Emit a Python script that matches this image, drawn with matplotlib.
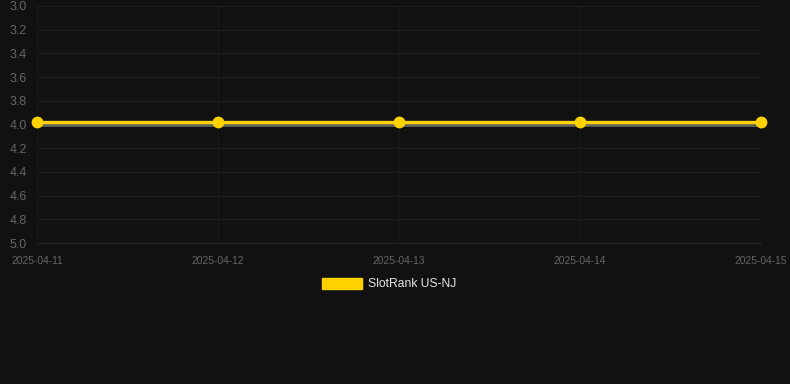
import datetime as dt

import matplotlib
matplotlib.use("Agg")
import matplotlib.dates as mdates
import matplotlib.pyplot as plt
import matplotlib.transforms as mtransforms
from matplotlib.patches import Patch

# data
dates = ["2025-04-11", "2025-04-12", "2025-04-13", "2025-04-14", "2025-04-15"]
ranks = [4, 4, 4, 4, 4]
series_name = "SlotRank US-NJ"
y_ticks = [3.0, 3.2, 3.4, 3.6, 3.8, 4.0, 4.2, 4.4, 4.6, 4.8, 5.0]

BG = "#111111"
TICK = "#666666"
YELLOW = "#ffd200"

plt.rcParams["font.family"] = ["Liberation Sans", "DejaVu Sans"]

xs = [dt.datetime.strptime(d, "%Y-%m-%d") for d in dates]

fig = plt.figure(figsize=(7.9, 3.84), dpi=100, facecolor=BG)
ax = fig.add_axes([37 / 790, 1 - 243 / 384, (761 - 37) / 790, (243 - 6) / 384])
ax.set_facecolor(BG)

# grey shadow under the line, then the line itself nudged up a few px
ax.plot(xs, ranks, color="#666660", lw=2.6, zorder=2, solid_capstyle="butt")
shift = mtransforms.offset_copy(ax.transData, fig=fig, x=0, y=3, units="dots")
ax.plot(xs, ranks, color=YELLOW, lw=2.4, marker="o", ms=7.5, mfc=YELLOW,
        mec=YELLOW, transform=shift, zorder=3, clip_on=False)

ax.set_ylim(5.0, 3.0)
ax.set_yticks(y_ticks)
ax.set_yticklabels([f"{v:.1f}" for v in y_ticks])
ax.set_xlim(xs[0], xs[-1])
ax.set_xticks(xs)
ax.xaxis.set_major_formatter(mdates.DateFormatter("%Y-%m-%d"))

ax.grid(True, axis="y", color="#1d1d1d", lw=1)
ax.grid(True, axis="x", color="#171717", lw=1)
ax.set_axisbelow(True)
for s in ["top", "right"]:
    ax.spines[s].set_visible(False)
ax.spines["left"].set_color("#171717")
ax.spines["bottom"].set_color("#232323")
ax.tick_params(axis="both", length=0, colors=TICK)
ax.tick_params(axis="y", labelsize=9)
ax.tick_params(axis="x", labelsize=7.4, pad=9)
for lab in ax.get_yticklabels():
    lab.set_horizontalalignment("left")
    lab.set_x(-27 / (761 - 37))
    lab.set_transform(ax.get_yaxis_transform())

leg = fig.legend(handles=[Patch(facecolor=YELLOW, edgecolor=YELLOW, label=series_name)],
                 loc="center", bbox_to_anchor=(389 / 790, 1 - 284 / 384),
                 frameon=False, handlelength=3.3, handleheight=1.0,
                 fontsize=8.7, labelcolor="#e6e6e6", handletextpad=0.45)

fig.savefig("out.png", dpi=100, facecolor=BG)
